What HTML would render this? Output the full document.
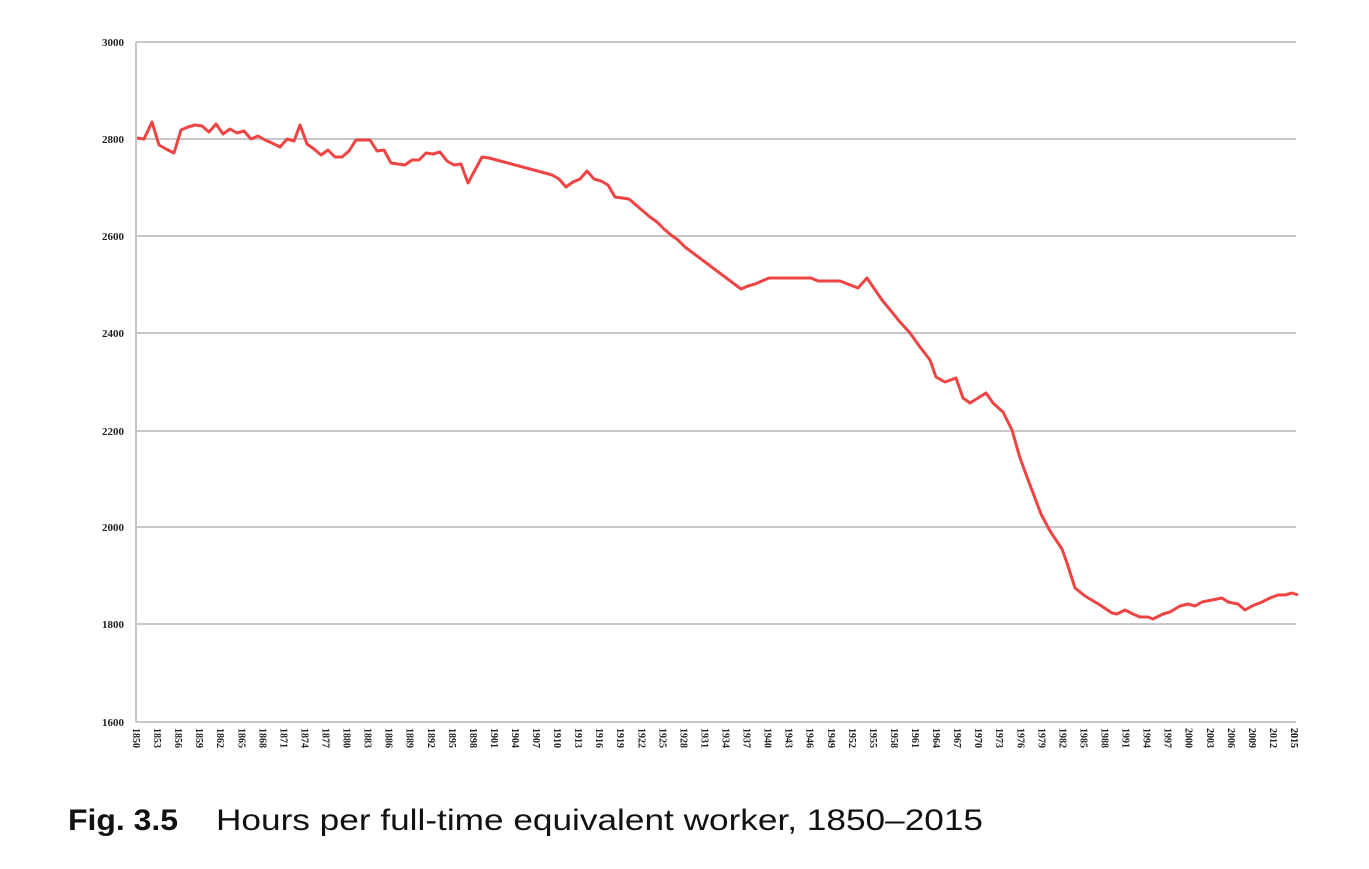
<!DOCTYPE html>
<html><head><meta charset="utf-8"><style>
body{margin:0;background:#fff;width:1369px;height:869px;overflow:hidden;font-family:"Liberation Sans",sans-serif}
</style></head><body>
<svg width="1369" height="869" xmlns="http://www.w3.org/2000/svg" style="position:absolute;left:0;top:0">
<g stroke="#c8c8c8" stroke-width="2">
<line x1="136" y1="42" x2="1296" y2="42"/>
<line x1="136" y1="139" x2="1296" y2="139"/>
<line x1="136" y1="236" x2="1296" y2="236"/>
<line x1="136" y1="333" x2="1296" y2="333"/>
<line x1="136" y1="431" x2="1296" y2="431"/>
<line x1="136" y1="527" x2="1296" y2="527"/>
<line x1="136" y1="624" x2="1296" y2="624"/>
<line x1="136" y1="722" x2="1296" y2="722"/>
<line x1="136" y1="42" x2="136" y2="722"/>
</g>
<g font-family="Liberation Serif,serif" font-size="11" font-weight="bold" fill="#222" text-anchor="end">
<text x="124" y="46">3000</text><text x="124" y="143">2800</text><text x="124" y="240">2600</text><text x="124" y="337">2400</text><text x="124" y="435">2200</text><text x="124" y="531">2000</text><text x="124" y="628">1800</text><text x="124" y="726">1600</text>
</g>
<g id="xt" font-family="Liberation Serif,serif" font-size="10" font-weight="bold" fill="#222"></g>
<polyline fill="none" stroke="#ee4444" stroke-width="3" stroke-linejoin="round" points="137,138 144,139 152,122 159,145 166,149 174,153 181,130 188,127 195,125 202,126 209,132 216,124 223,134 230,129 237,133 244,131 251,139 258,136 265,140 272,143 280,147 287,139 294,141 300,125 307,144 314,149 321,155 328,150 335,157 342,157 349,151 356,140 363,140 370,140 377,151 384,150 391,163 398,164 405,165 412,160 419,160 426,153 433,154 440,152 447,161 454,165 461,164 468,183 475,170 482,157 489,158 545,173 552,175 559,179 566,187 573,182 580,179 587,171 594,179 601,181 608,185 615,197 622,198 629,199 636,205 643,211 650,217 657,222 664,229 671,235 678,240 685,247 741,289 748,286 755,284 762,281 769,278 811,278 818,281 840,281 858,288 867,278 882,300 900,322 910,333 920,347 930,360 936,377 945,382 956,378 963,398 970,403 986,393 993,403 1003,412 1012,430 1020,458 1030,485 1041,514 1050,531 1062,549 1067,563 1075,588 1085,596 1100,605 1112,613 1117,614 1125,610 1133,614 1140,617 1148,617 1153,619 1163,614 1170,612 1180,606 1188,604 1195,606 1202,602 1212,600 1222,598 1228,602 1238,604 1245,610 1252,606 1262,602 1270,598 1278,595 1285,595 1292,593 1298,595"/>
<text x="68" y="830" font-size="30" font-weight="bold" fill="#111" textLength="110" lengthAdjust="spacingAndGlyphs">Fig. 3.5</text>
<text x="216" y="830" font-size="30" fill="#111" textLength="767" lengthAdjust="spacingAndGlyphs">Hours per full-time equivalent worker, 1850–2015</text>
</svg>
<script>
var g=document.getElementById('xt'),s='';
for(var y=1850;y<=2015;y+=3){var x=137+(y-1850)*7.018;s+='<text transform="translate('+(x-4)+',728) rotate(90)">'+y+'</text>';}
s+='<text transform="translate(1291,728) rotate(90)">2015</text>';
g.innerHTML=s;
</script>
</body></html>
